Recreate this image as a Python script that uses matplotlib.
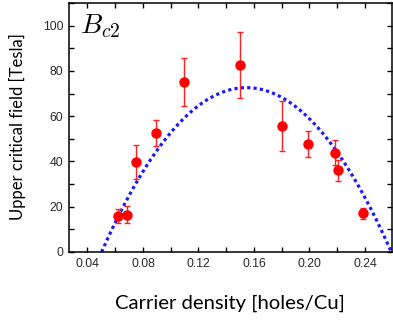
import matplotlib
matplotlib.use("Agg")
import matplotlib.pyplot as plt
import numpy as np
from matplotlib.ticker import MultipleLocator

# Data
density = [0.0622, 0.0687, 0.0747, 0.0896, 0.1098, 0.1499, 0.1800, 0.1987, 0.2184, 0.2203, 0.2386]
bc2 = [15.9, 16.5, 39.8, 52.6, 75.1, 82.5, 55.6, 47.8, 43.9, 36.1, 17.1]
bc2_err = [3.2, 3.9, 7.6, 5.9, 10.6, 14.6, 11.1, 5.8, 5.4, 4.6, 2.4]

# Parabolic dome fit parameters
fit_peak = 72.6
fit_center = 0.1546
fit_halfwidth = 0.1044

x_ticks = [0.04, 0.08, 0.12, 0.16, 0.20, 0.24]
x_tick_labels = ["0.04", "0.08", "0.12", "0.16", "0.20", "0.24"]
y_ticks = [0, 20, 40, 60, 80, 100]

plt.rcParams['mathtext.fontset'] = 'cm'

fig = plt.figure(figsize=(3.93, 3.2), dpi=100)
ax = fig.add_axes([69/393, 68/320, 323/393, 249/320])

p = np.linspace(fit_center - fit_halfwidth, fit_center + fit_halfwidth, 400)
fit = fit_peak * (1 - ((p - fit_center) / fit_halfwidth) ** 2)
ax.plot(p, fit, color='#1a1aff', lw=2.3, linestyle=(0, (1, 1)), zorder=2)

ax.errorbar(density, bc2, yerr=bc2_err, fmt='o', color='red', ecolor='#ff2020',
            markersize=6.5, elinewidth=1.0, capsize=2.5, capthick=1.0, zorder=3)

ax.set_xlim(0.0267, 0.2595)
ax.set_ylim(0, 110)
ax.set_xticks(x_ticks)
ax.set_xticklabels(x_tick_labels)
ax.set_yticks(y_ticks)
ax.xaxis.set_minor_locator(MultipleLocator(0.02))
ax.yaxis.set_minor_locator(MultipleLocator(10))
ax.tick_params(which='both', direction='in', top=True, right=True, length=3.5, width=1.0,
               labelsize=8.8, pad=4, colors='black')
for lbl in ax.get_xticklabels() + ax.get_yticklabels():
    lbl.set_fontfamily('Liberation Sans')
    lbl.set_color('#2a2a2a')
for s in ax.spines.values():
    s.set_linewidth(1.1)

ax.text(0.035, 0.965, r'$B_{c2}$', transform=ax.transAxes, fontsize=20, va='top', ha='left')

fig.text(230/393, 1 - 303/320, 'Carrier density [holes/Cu]', fontsize=14.6, family='Lato',
         ha='center', va='center')
fig.text(17/393, 1 - 127/320, 'Upper critical field [Tesla]', fontsize=12, family='Lato',
         ha='center', va='center', rotation=90)

fig.savefig('out.png', dpi=100)
